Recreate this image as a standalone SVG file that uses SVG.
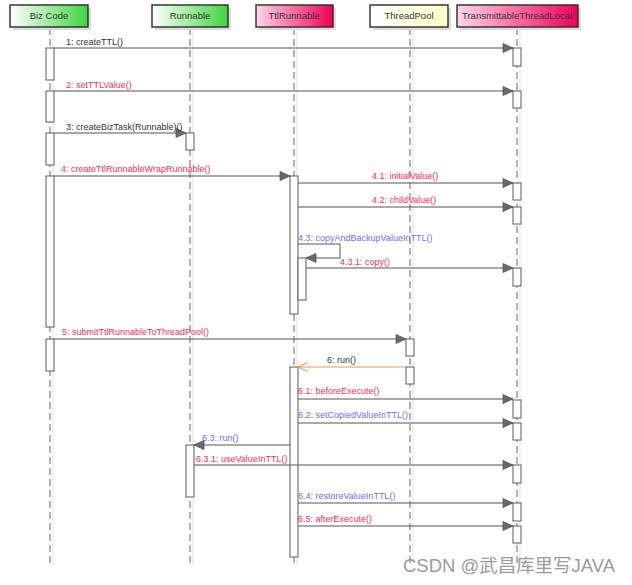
<svg xmlns="http://www.w3.org/2000/svg" width="632" height="585" viewBox="0 0 632 585">
<defs>
<linearGradient id="gGreen" x1="0" y1="0" x2="1" y2="0"><stop offset="0" stop-color="#ffffff"/><stop offset="1" stop-color="#3ed63e"/></linearGradient>
<linearGradient id="gPink" x1="0" y1="0" x2="1" y2="0"><stop offset="0" stop-color="#ffd6ea"/><stop offset="1" stop-color="#f00057"/></linearGradient>
<linearGradient id="gYellow" x1="0" y1="0" x2="1" y2="0"><stop offset="0" stop-color="#ffffff"/><stop offset="1" stop-color="#ffffc4"/></linearGradient>
<marker id="aFill" markerUnits="userSpaceOnUse" markerWidth="12" markerHeight="12" viewBox="0 0 12 12" refX="11" refY="6" orient="auto">
<path d="M1,1.5 L11,6 L1,10.5 Z" fill="#6a6a6a" stroke="#555" stroke-width="0.8"/>
</marker>
<marker id="aOpen" markerUnits="userSpaceOnUse" markerWidth="12" markerHeight="12" viewBox="0 0 12 12" refX="11" refY="6" orient="auto">
<path d="M1,1.5 L11,6 L1,10.5" fill="none" stroke="#f0943c" stroke-width="1"/>
</marker>
</defs>
<style>
.hdr{stroke:#2a2a2a;stroke-width:1.4}
.shadow{fill:#dcdcdc}
.ht{font-family:"Liberation Sans",Arial,sans-serif;font-size:9.5px;fill:#333;text-anchor:middle}
.life{stroke:#8a8a8a;stroke-width:1.3;stroke-dasharray:7 4;fill:none}
.lifes{stroke:#e6e6e6;stroke-width:1.2}
.act{fill:#fff;stroke:#5a5a5a;stroke-width:1}
.msg{stroke:#555;stroke-width:1;fill:none;marker-end:url(#aFill)}
.ret{stroke:#f0943c;stroke-width:1;fill:none;marker-end:url(#aOpen)}
.lb{font-family:"Liberation Sans",Arial,sans-serif;font-size:9px}
.k{fill:#333}
.r{fill:#ff2a55}
.b{fill:#7a66ff}
.wm{font-family:"Liberation Sans","Noto Sans CJK SC",sans-serif;font-size:18px;fill:#9a9a9a}
</style>
<rect width="632" height="585" fill="#fff"/>

<g id="lifelines">
<line class="lifes" x1="53" y1="28" x2="53" y2="565"/><line class="life" x1="50" y1="28" x2="50" y2="565"/>
<line class="lifes" x1="193" y1="28" x2="193" y2="565"/><line class="life" x1="190" y1="28" x2="190" y2="565"/>
<line class="lifes" x1="297" y1="28" x2="297" y2="565"/><line class="life" x1="294" y1="28" x2="294" y2="565"/>
<line class="lifes" x1="413" y1="28" x2="413" y2="565"/><line class="life" x1="410" y1="28" x2="410" y2="565"/>
<line class="lifes" x1="520" y1="28" x2="520" y2="565"/><line class="life" x1="517" y1="28" x2="517" y2="565"/>
</g>

<g id="n-bizcode">
<rect class="shadow" x="13" y="8" width="78" height="22"/>
<rect class="hdr" x="10" y="5" width="78" height="22" fill="url(#gGreen)"/>
<text class="ht" x="49" y="19">Biz Code</text>
<rect class="act" x="46" y="48" width="8" height="32"/>
<rect class="act" x="46" y="91" width="8" height="31"/>
<rect class="act" x="46" y="133" width="8" height="32"/>
<rect class="act" x="46" y="176" width="8" height="151"/>
<rect class="act" x="46" y="339" width="8" height="32"/>
</g>

<g id="n-runnable">
<rect class="shadow" x="155" y="8" width="76" height="22"/>
<rect class="hdr" x="152" y="5" width="76" height="22" fill="url(#gGreen)"/>
<text class="ht" x="190" y="19">Runnable</text>
<rect class="act" x="186" y="133" width="8" height="17"/>
<rect class="act" x="186" y="445" width="8" height="52"/>
</g>

<g id="n-ttlrunnable">
<rect class="shadow" x="259" y="8" width="77" height="22"/>
<rect class="hdr" x="256" y="5" width="77" height="22" fill="url(#gPink)"/>
<text class="ht" x="294" y="19">TtlRunnable</text>
<rect class="act" x="290" y="176" width="8" height="138"/>
<rect class="act" x="298" y="258" width="8" height="42"/>
<rect class="act" x="290" y="367" width="8" height="190"/>
</g>

<g id="n-threadpool">
<rect class="shadow" x="373" y="8" width="78" height="22"/>
<rect class="hdr" x="370" y="5" width="78" height="22" fill="url(#gYellow)"/>
<text class="ht" x="409" y="19">ThreadPool</text>
<rect class="act" x="406" y="339" width="8" height="17"/>
<rect class="act" x="406" y="367" width="8" height="17"/>
</g>

<g id="n-ttl">
<rect class="shadow" x="460" y="8" width="121" height="22"/>
<rect class="hdr" x="457" y="5" width="121" height="22" fill="url(#gPink)"/>
<text class="ht" x="517" y="19">TransmittableThreadLocal</text>
<rect class="act" x="513" y="48" width="8" height="18"/>
<rect class="act" x="513" y="91" width="8" height="17"/>
<rect class="act" x="513" y="183" width="8" height="17"/>
<rect class="act" x="513" y="207" width="8" height="17"/>
<rect class="act" x="513" y="268" width="8" height="18"/>
<rect class="act" x="513" y="400" width="8" height="18"/>
<rect class="act" x="513" y="423" width="8" height="17"/>
<rect class="act" x="513" y="465" width="8" height="18"/>
<rect class="act" x="513" y="503" width="8" height="18"/>
<rect class="act" x="513" y="526" width="8" height="17"/>
</g>

<g id="connectors">
<line class="msg" x1="54" y1="48" x2="513" y2="48"/>
<text class="lb k" x="66" y="45">1: createTTL()</text>
<line class="msg" x1="54" y1="91" x2="513" y2="91"/>
<text class="lb r" x="66" y="88">2: setTTLValue()</text>
<line class="msg" x1="54" y1="133" x2="186" y2="133"/>
<text class="lb k" x="66" y="130">3: createBizTask(Runnable)()</text>
<line class="msg" x1="54" y1="176" x2="290" y2="176"/>
<text class="lb r" x="61" y="172">4: createTtlRunnableWrapRunnable()</text>
<line class="msg" x1="298" y1="183" x2="513" y2="183"/>
<text class="lb r" x="372" y="179">4.1: initialValue()</text>
<line class="msg" x1="298" y1="207" x2="513" y2="207"/>
<text class="lb r" x="372" y="203">4.2: childValue()</text>
<path class="msg" d="M298,244 H340 V258 H306"/>
<text class="lb b" x="298" y="241">4.3: copyAndBackupValueInTTL()</text>
<line class="msg" x1="306" y1="268" x2="513" y2="268"/>
<text class="lb r" x="340" y="265">4.3.1: copy()</text>
<line class="msg" x1="54" y1="339" x2="406" y2="339"/>
<text class="lb r" x="62" y="335">5: submitTtlRunnableToThreadPool()</text>
<line class="ret" x1="406" y1="367" x2="298" y2="367"/>
<text class="lb k" x="327" y="363">6: run()</text>
<line class="msg" x1="298" y1="399" x2="513" y2="399"/>
<text class="lb r" x="298" y="394">6.1: beforeExecute()</text>
<line class="msg" x1="298" y1="423" x2="513" y2="423"/>
<text class="lb b" x="298" y="418">6.2: setCopiedValueInTTL()</text>
<line class="msg" x1="290" y1="445" x2="194" y2="445"/>
<text class="lb b" x="202" y="441">6.3: run()</text>
<line class="msg" x1="194" y1="465" x2="513" y2="465"/>
<text class="lb r" x="196" y="462">6.3.1: useValueInTTL()</text>
<line class="msg" x1="298" y1="503" x2="513" y2="503"/>
<text class="lb b" x="298" y="499">6.4: restoreValueInTTL()</text>
<line class="msg" x1="298" y1="526" x2="513" y2="526"/>
<text class="lb r" x="298" y="522">6.5: afterExecute()</text>
</g>

<text class="wm" x="403" y="572" textLength="212" lengthAdjust="spacingAndGlyphs">CSDN @武昌库里写JAVA</text>
</svg>
